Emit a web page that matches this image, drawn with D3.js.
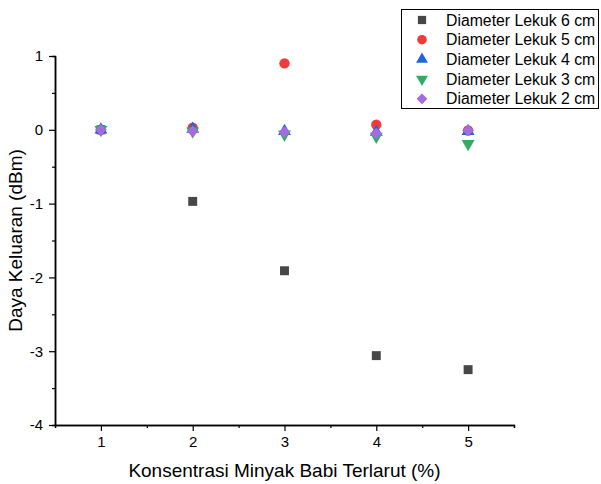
<!DOCTYPE html>
<html>
<head>
<meta charset="utf-8">
<script src="https://cdn.jsdelivr.net/npm/d3@7"></script>
<style>
  html, body { margin: 0; padding: 0; background: #fff; }
  svg { display: block; font-family: "Liberation Sans", Arial, sans-serif; }
</style>
</head>
<body>
<svg id="chart" width="601" height="484"></svg>
<script>
// Oil concentration (%) on the x axis
const konsentrasi = [1, 2, 3, 4, 5];

// Output power (dBm) per bend diameter
const lekuk6 = [0, -0.97, -1.91, -3.06, -3.25];
const lekuk5 = [0, 0.03, 0.90, 0.07, -0.01];
const lekuk4 = [0, 0.01, -0.02, -0.03, -0.02];
const lekuk3 = [0, -0.02, -0.06, -0.09, -0.19];
const lekuk2 = [0, -0.02, -0.03, -0.05, -0.01];

const seriesNames = ["Diameter Lekuk 6 cm", "Diameter Lekuk 5 cm", "Diameter Lekuk 4 cm", "Diameter Lekuk 3 cm", "Diameter Lekuk 2 cm"];
const xTicks = [1, 2, 3, 4, 5];
const yTicks = [-4, -3, -2, -1, 0, 1];

const series = [
  { name: seriesNames[0], values: lekuk6, symbol: d3.symbolSquare, size: 80, color: "#474747", rot: 0 },
  { name: seriesNames[1], values: lekuk5, symbol: d3.symbolCircle, size: 85, color: "#ef3b3b", rot: 0 },
  { name: seriesNames[2], values: lekuk4, symbol: d3.symbolTriangle, size: 72, color: "#1f66dd", rot: 0 },
  { name: seriesNames[3], values: lekuk3, symbol: d3.symbolTriangle, size: 72, color: "#2fae62", rot: 180 },
  { name: seriesNames[4], values: lekuk2, symbol: d3.symbolSquare, size: 68, color: "#a56ce2", rot: 45 }
];

const svg = d3.select("#chart");
const plotLeft = 55, plotRight = 514, plotTop = 56, plotBottom = 425;

const x = d3.scaleLinear().domain([0.5, 5.5]).range([plotLeft, plotRight]);
const y = d3.scaleLinear().domain([-4, 1]).range([plotBottom, plotTop]);

// plain hyphen-minus tick labels
const fmt = d => String(d);

// minor ticks at half-unit steps
const xMinor = d3.range(1.5, 5.5, 1);
const yMinor = d3.range(-3.5, 1, 1);

svg.append("g").attr("transform", `translate(0,${plotBottom})`)
  .call(d3.axisBottom(x).tickValues(xMinor).tickSize(3).tickFormat(""));
svg.append("g").attr("transform", `translate(0,${plotBottom})`)
  .call(d3.axisBottom(x).tickValues(xTicks).tickSize(6).tickSizeOuter(0).tickPadding(5).tickFormat(fmt));

svg.append("g").attr("transform", `translate(${plotLeft},0)`)
  .call(d3.axisLeft(y).tickValues(yMinor).tickSize(3).tickFormat(""));
svg.append("g").attr("transform", `translate(${plotLeft},0)`)
  .call(d3.axisLeft(y).tickValues(yTicks).tickSize(6).tickSizeOuter(0).tickPadding(6).tickFormat(fmt));

svg.selectAll(".domain").attr("stroke", "#000").attr("stroke-width", 1.5);
svg.selectAll(".tick line").attr("stroke", "#000").attr("stroke-width", 1.2);
svg.selectAll(".tick text").attr("fill", "#000").attr("font-size", 15)
  .attr("font-family", "Liberation Sans, Arial, sans-serif");

// axis titles
svg.append("text")
  .attr("x", (plotLeft + plotRight) / 2).attr("y", 477)
  .attr("text-anchor", "middle").attr("font-size", 19)
  .text("Konsentrasi Minyak Babi Terlarut (%)");
svg.append("text")
  .attr("transform", `translate(22,${(plotTop + plotBottom) / 2}) rotate(-90)`)
  .attr("text-anchor", "middle").attr("font-size", 19)
  .text("Daya Keluaran (dBm)");

// scatter markers
series.forEach(s => {
  const sym = d3.symbol().type(s.symbol).size(s.size);
  svg.append("g").selectAll("path")
    .data(s.values.map((v, i) => [konsentrasi[i], v]))
    .join("path")
    .attr("d", sym)
    .attr("fill", s.color)
    .attr("transform", d => `translate(${x(d[0])},${y(d[1])}) rotate(${s.rot})`);
});

// legend
const lg = svg.append("g");
lg.append("rect")
  .attr("x", 401.5).attr("y", 9.5).attr("width", 197).attr("height", 99)
  .attr("fill", "#fff").attr("stroke", "#000").attr("stroke-width", 1);
series.forEach((s, i) => {
  const cy = 20 + i * 19.7;
  const sym = d3.symbol().type(s.symbol).size(s.size * 0.85);
  lg.append("path").attr("d", sym).attr("fill", s.color)
    .attr("transform", `translate(422,${cy}) rotate(${s.rot})`);
  lg.append("text").attr("x", 446).attr("y", cy).attr("dy", "0.36em")
    .attr("font-size", 15.8).text(s.name);
});
</script>
</body>
</html>
